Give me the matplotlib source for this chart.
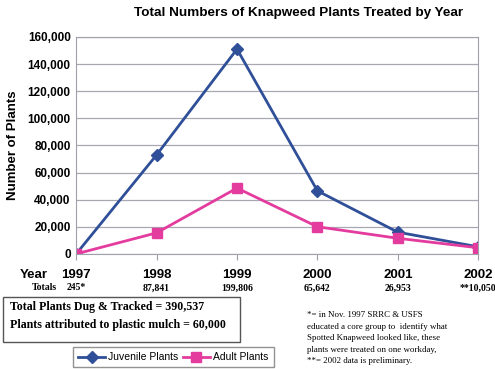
import matplotlib
matplotlib.use("Agg")
import matplotlib.pyplot as plt
from matplotlib.patches import Rectangle
from matplotlib.ticker import FuncFormatter

years = [1997, 1998, 1999, 2000, 2001, 2002]
juvenile = [0, 73000, 151000, 46500, 16000, 5200]
adult = [0, 15500, 48500, 20000, 11500, 4500]
totals = ["245*", "87,841", "199,806", "65,642", "26,953", "**10,050"]

title = "Total Numbers of Knapweed Plants Treated by Year"
box_lines = ["Total Plants Dug & Tracked = 390,537",
             "Plants attributed to plastic mulch = 60,000"]
footnote = ("*= in Nov. 1997 SRRC & USFS\n"
            "educated a core group to  identify what\n"
            "Spotted Knapweed looked like, these\n"
            "plants were treated on one workday,\n"
            "**= 2002 data is preliminary.")

sans = "Liberation Sans"
serif = "Liberation Serif"
blue = "#2f4f98"
pink = "#e43c9e"

fig = plt.figure(figsize=(4.95, 3.69), dpi=100)
fig.patch.set_facecolor("white")
ax = fig.add_axes([0.154, 0.312, 0.812, 0.588])

ax.plot(years, juvenile, color=blue, marker="D", markersize=6, linewidth=2,
        label="Juvenile Plants")
ax.plot(years, adult, color=pink, marker="s", markersize=7, linewidth=2,
        label="Adult Plants")

ax.set_xlim(years[0], years[-1])
ax.set_ylim(0, 160000)
ax.set_yticks(range(0, 160001, 20000))
ax.yaxis.set_major_formatter(FuncFormatter(lambda v, p: f"{int(v):,}"))
ax.set_xticks(years)
ax.set_xticklabels([str(y) for y in years])
ax.grid(axis="y", color="#a8a8b4", linewidth=0.9)
ax.set_axisbelow(True)
for s in ax.spines.values():
    s.set_color("#a0a0ac")
ax.tick_params(axis="y", length=0, pad=4)
ax.tick_params(axis="x", length=4, color="#a0a0ac", pad=7)
for lab in ax.get_yticklabels():
    lab.set_fontfamily(sans)
    lab.set_fontweight("bold")
    lab.set_fontsize(8.5)
for lab in ax.get_xticklabels():
    lab.set_fontfamily(sans)
    lab.set_fontweight("bold")
    lab.set_fontsize(9.5)

ax.set_ylabel("Number of Plants", fontfamily=sans, fontweight="bold",
              fontsize=9.5, labelpad=6)
fig.text(0.604, 0.965, title, ha="center", va="center", fontfamily=sans,
         fontweight="bold", fontsize=9.7)

fig.text(20 / 495, 1 - 275 / 369, "Year", ha="left", va="center",
         fontfamily=sans, fontweight="bold", fontsize=9.5)
fig.text(32 / 495, 1 - 288 / 369, "Totals", ha="left", va="center",
         fontfamily=serif, fontweight="bold", fontsize=7)
trans = ax.get_xaxis_transform()
for yr, t in zip(years, totals):
    ax.text(yr, -0.157, t, transform=trans, ha="center", va="center",
            fontfamily=serif, fontweight="bold", fontsize=7, clip_on=False)

fig.patches.append(Rectangle((3 / 495, 1 - 342 / 369), 237 / 495, 45 / 369,
                             transform=fig.transFigure, fill=False,
                             edgecolor="#555555", linewidth=1))
fig.text(10 / 495, 1 - 307 / 369, box_lines[0], ha="left", va="center",
         fontfamily=serif, fontweight="bold", fontsize=8.6)
fig.text(10 / 495, 1 - 325 / 369, box_lines[1], ha="left", va="center",
         fontfamily=serif, fontweight="bold", fontsize=8.6)

fig.text(307 / 495, 1 - 311 / 369, footnote, ha="left", va="top",
         fontfamily=serif, fontsize=6.4, linespacing=1.6)

leg = fig.legend(loc="upper left", bbox_to_anchor=(73 / 495, 1 - 347 / 369),
                 ncol=2, frameon=True, fancybox=False, borderpad=0.5,
                 handlelength=2.6, columnspacing=0.4, handletextpad=0.3,
                 borderaxespad=0, prop={"family": sans, "size": 7.5})
leg.get_frame().set_edgecolor("#777777")

fig.savefig("out.png", dpi=100)
